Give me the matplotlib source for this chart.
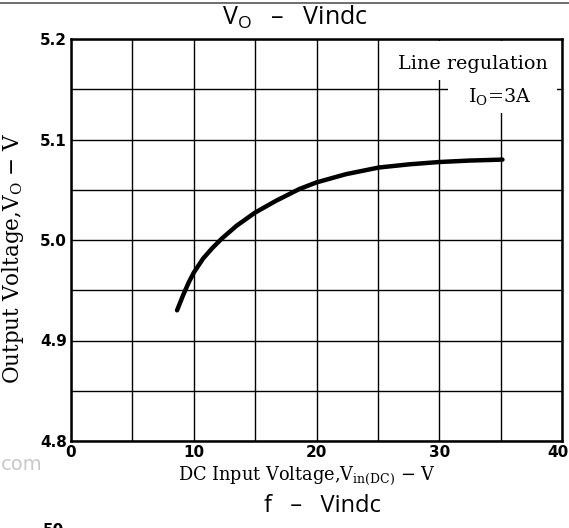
import numpy as np
import matplotlib
matplotlib.use("Agg")
import matplotlib.pyplot as plt
import matplotlib.transforms as mtransforms
from matplotlib.lines import Line2D
from matplotlib.patches import Rectangle

# Data (DC input voltage vs output voltage, Io = 3A)
vin = [8.64, 9.13, 9.6, 10.0, 10.76, 11.5, 12.25, 13.47, 15.0, 16.7, 18.6, 20.0, 22.4, 25.07, 27.56, 30.0, 32.4, 35.15]
vout = [4.930, 4.945, 4.958, 4.9675, 4.9815, 4.9918, 5.0010, 5.0140, 5.0273, 5.039, 5.0507, 5.0573, 5.0655, 5.0721, 5.0753, 5.0776, 5.0790, 5.0800]

x_ticks = [0, 10, 20, 30, 40]
y_ticks = [4.8, 4.9, 5.0, 5.1, 5.2]
x_grid = np.arange(0, 41, 5)
y_grid = np.arange(4.8, 5.201, 0.05)

plt.rcParams['mathtext.fontset'] = 'custom'
plt.rcParams['mathtext.rm'] = 'DejaVu Serif'
plt.rcParams['mathtext.sf'] = 'Open Sans'

fig = plt.figure(figsize=(5.69, 5.28), dpi=100)
ax = fig.add_axes([71/569, 1 - 441/528, 491/569, 402/528])

ax.set_xlim(0, 40)
ax.set_ylim(4.8, 5.2)
ax.set_xticks(x_grid, minor=True)
ax.set_yticks(y_grid, minor=True)
ax.set_xticks(x_ticks)
ax.set_yticks(y_ticks)
ax.set_yticklabels(["4.8", "4.9", "5.0", "5.1", "5.2"])
ax.grid(True, which='both', color='black', linewidth=1.0)
ax.set_axisbelow(True)
ax.tick_params(which='both', length=0)
ax.tick_params(axis='both', labelsize=11, pad=3)
for lab in ax.get_xticklabels() + ax.get_yticklabels():
    lab.set_fontweight('bold')
# nudge the last x label so it stays inside
last = ax.get_xticklabels()[-1]
last.set_transform(last.get_transform() + mtransforms.ScaledTranslation(-3/72, 0, fig.dpi_scale_trans))

for sp in ax.spines.values():
    sp.set_linewidth(1.8)

ax.plot(vin, vout, color='black', linewidth=3.2, solid_capstyle='round', solid_joinstyle='round', zorder=3)

# white areas behind the annotation
ax.add_patch(Rectangle((0.641, 0.898), 0.349, 0.098, transform=ax.transAxes,
                       facecolor='white', edgecolor='none', zorder=2))
ax.add_patch(Rectangle((0.767, 0.816), 0.223, 0.082, transform=ax.transAxes,
                       facecolor='white', edgecolor='none', zorder=2))
ax.text(0.819, 0.937, "Line regulation", transform=ax.transAxes, ha='center', va='center',
        fontsize=13.8, family='DejaVu Serif', zorder=4)
ax.text(0.873, 0.854, r"I$_{\mathrm{O}}$=3A", transform=ax.transAxes, ha='center', va='center',
        fontsize=13.8, family='DejaVu Serif', zorder=4)

ax.set_xlabel(r"DC Input Voltage,V$_{\mathrm{in(DC)}}$ $-$ V", family='DejaVu Serif', fontsize=12.8)
ax.xaxis.set_label_coords(0.48, -0.058)
ax.set_ylabel(r"Output Voltage,V$_{\mathrm{O}}$ $-$ V", family='DejaVu Serif', fontsize=15.5)
ax.yaxis.set_label_coords(-0.092, 0.454)

fig.text(295/569, 1 - 17/528, r"V$_{\mathsf{O}}$   –   Vindc", ha='center', va='center',
         fontsize=18, family='Open Sans')
fig.text(322/569, 1 - 506/528, "f   –   Vindc", ha='center', va='center',
         fontsize=17, family='Open Sans')

# top border line and page fragments
fig.add_artist(Line2D([0, 1], [1 - 3/528, 1 - 3/528], transform=fig.transFigure, color='#555555', linewidth=1.2))
fig.text(22/569, 1 - 465/528, "com", ha='center', va='center', fontsize=14, color='#c8c8c8', family='DejaVu Sans')
fig.text(53/569, 1 - 523/528, "50", ha='center', va='top', fontsize=11, fontweight='bold', family='DejaVu Sans')

fig.savefig("out.png", dpi=100)
